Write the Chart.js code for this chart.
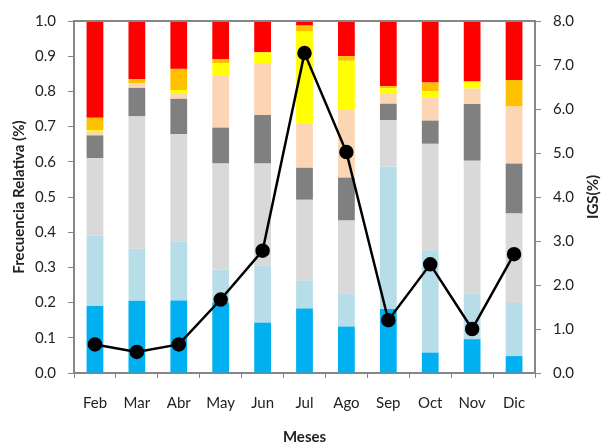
<!DOCTYPE html>
<html><head><meta charset="utf-8">
<script src="https://cdn.jsdelivr.net/npm/chart.js@4"></script>
<style>html,body{margin:0;padding:0;background:#fff}#wrap{width:601px;height:448px}</style>
</head><body><div id="wrap"><canvas id="c" width="601" height="448"></canvas></div>
<script>
const months = ["Feb","Mar","Abr","May","Jun","Jul","Ago","Sep","Oct","Nov","Dic"];
const serieAzul      = [0.190,0.205,0.206,0.200,0.143,0.183,0.132,0.182,0.058,0.096,0.048];
const serieCeleste   = [0.200,0.148,0.167,0.093,0.162,0.080,0.092,0.405,0.291,0.130,0.151];
const serieGrisClaro = [0.220,0.376,0.305,0.302,0.290,0.229,0.209,0.131,0.302,0.377,0.254];
const serieGrisOsc   = [0.065,0.081,0.101,0.102,0.138,0.091,0.122,0.047,0.066,0.161,0.142];
const serieMelocoton = [0.010,0.013,0.016,0.147,0.147,0.126,0.194,0.028,0.066,0.044,0.162];
const serieAmarillo  = [0.005,0.000,0.009,0.036,0.031,0.261,0.138,0.016,0.018,0.020,0.000];
const serieNaranja   = [0.035,0.012,0.060,0.011,0.000,0.017,0.013,0.006,0.024,0.000,0.075];
const serieRojo      = [0.275,0.165,0.136,0.109,0.089,0.013,0.100,0.185,0.175,0.172,0.168];
const igs            = [0.65,0.48,0.65,1.67,2.78,7.27,5.02,1.20,2.47,1.00,2.70];
const leftTicks  = [0,0.1,0.2,0.3,0.4,0.5,0.6,0.7,0.8,0.9,1.0];
const rightTicks = [0,1,2,3,4,5,6,7,8];
const leftTitle = 'Frecuencia Relativa (%)';
const rightTitle = 'IGS(%)';

const FONT = "Lato, 'Liberation Sans', sans-serif";
const AX = "#868686";
function bar(data, color){
  return {type:'bar', data, backgroundColor:color, yAxisID:'y', stack:'s', order:1,
          barPercentage:0.4, categoryPercentage:1.0, borderWidth:0};
}
const frame = {id:'frame', afterDraw(ch){
  const a = ch.chartArea, g = ch.ctx; g.save(); g.strokeStyle = AX; g.lineWidth = 2;
  g.beginPath(); g.moveTo(a.left, a.top); g.lineTo(a.right, a.top); g.stroke();
  g.fillStyle = '#222'; g.font = 'bold 15px ' + FONT; g.textAlign = 'center'; g.textBaseline = 'middle';
  const cy = (a.top + a.bottom) / 2;
  g.translate(19, cy); g.rotate(-Math.PI/2); g.fillText(leftTitle, 0, 0);
  g.setTransform(1,0,0,1,0,0);
  g.translate(593, cy); g.rotate(-Math.PI/2); g.fillText(rightTitle, 0, 0);
  g.restore();
}};
new Chart(document.getElementById('c'), {
  data:{labels:months, datasets:[
    {type:'line', data:igs, yAxisID:'y1', order:0, borderColor:'#000', backgroundColor:'#000',
     borderWidth:2.5, pointRadius:6, pointBackgroundColor:'#000', pointBorderColor:'#000', tension:0},
    bar(serieAzul,'#00B0F0'), bar(serieCeleste,'#B7DEE8'), bar(serieGrisClaro,'#D9D9D9'),
    bar(serieGrisOsc,'#808080'), bar(serieMelocoton,'#FCD5B4'), bar(serieAmarillo,'#FFFF00'),
    bar(serieNaranja,'#FFC000'), bar(serieRojo,'#FF0000')
  ]},
  options:{responsive:false, animation:false, events:[],
    layout:{padding:{top:20,left:0,right:0,bottom:0}},
    plugins:{legend:{display:false}, tooltip:{enabled:false}},
    scales:{
      x:{stacked:true, offset:true,
        grid:{offset:true, drawOnChartArea:false, color:AX, tickLength:5, lineWidth:1},
        border:{color:AX, width:2},
        ticks:{color:'#222', font:{family:FONT,size:15}, padding:16},
        title:{display:true, text:'Meses', color:'#222', font:{family:FONT,size:15,weight:'bold'}, padding:{top:4, bottom:2}},
        afterFit(s){ s.height = 75; }
      },
      y:{stacked:true, position:'left', min:0, max:1,
        afterBuildTicks(s){ s.ticks = leftTicks.map(v=>({value:v})); },
        grid:{drawOnChartArea:false, color:AX, tickLength:6},
        border:{color:AX, width:2},
        ticks:{color:'#222', font:{family:FONT,size:15}, padding:12, callback:v=>v.toFixed(1)},
        afterFit(s){ s.width = 74; }
      },
      y1:{position:'right', min:0, max:8,
        afterBuildTicks(s){ s.ticks = rightTicks.map(v=>({value:v})); },
        grid:{drawOnChartArea:false, color:AX, tickLength:6},
        border:{color:AX, width:2},
        ticks:{color:'#222', font:{family:FONT,size:15}, padding:12, callback:v=>v.toFixed(1)},
        afterFit(s){ s.width = 66; }
      }
    }
  },
  plugins:[frame]
});
</script></body></html>
